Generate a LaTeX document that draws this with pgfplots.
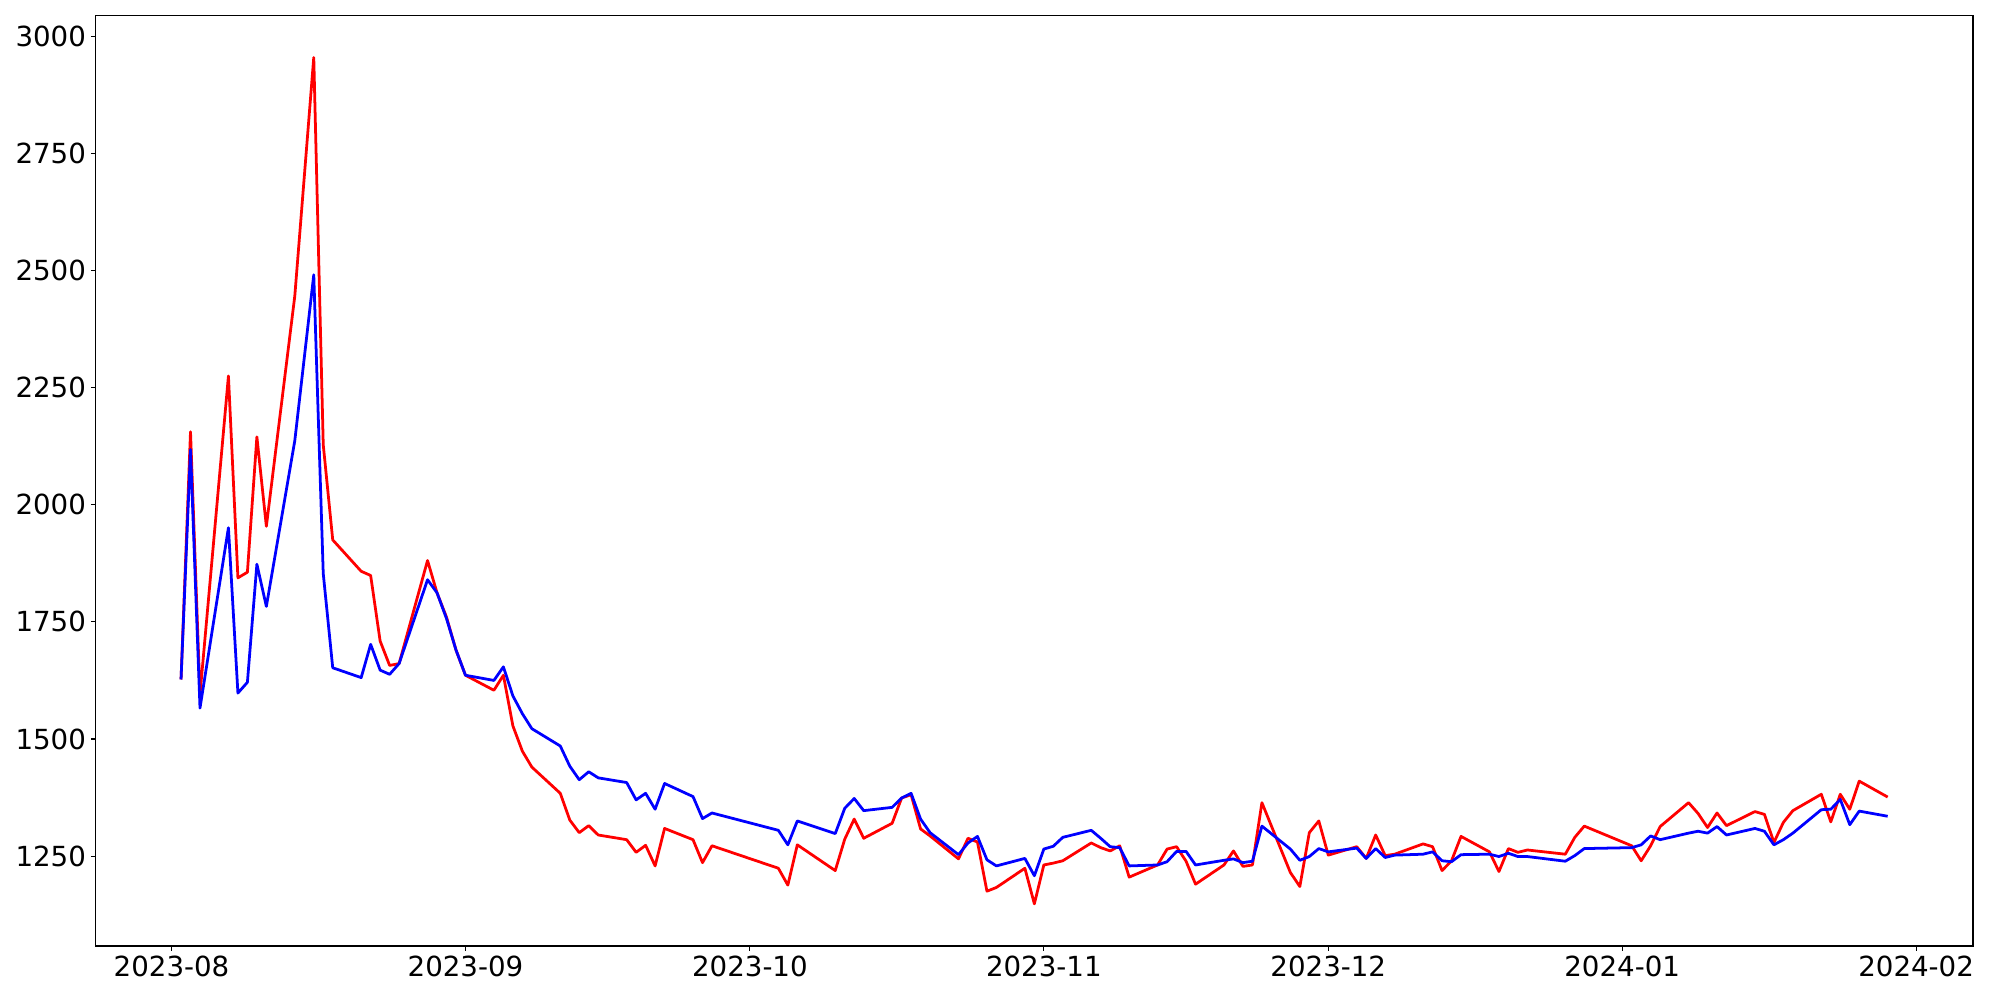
\documentclass[border=0pt]{standalone}
\usepackage{fontspec}
\setmainfont{DejaVu Sans}
\usepackage{pgfplots}
\pgfplotsset{compat=1.18}
\usepackage{pgfplotstable}
\usetikzlibrary{calc}

\pgfplotstableread{
day red blue
1 1627 1627
2 2156 2118
3 1595 1566
6 2275 1951
7 1844 1598
8 1856 1621
9 2145 1873
10 1954 1783
13 2446 2137
15 2955 2491
16 2128 1853
17 1925 1652
20 1858 1631
21 1849 1702
22 1709 1647
23 1657 1638
24 1661 1661
27 1881 1840
28 1812 1812
29 1760 1757
30 1690 1690
31 1636 1636
34 1604 1625
35 1636 1654
36 1528 1592
37 1474 1554
38 1440 1522
41 1384 1485
42 1327 1442
43 1300 1413
44 1315 1430
45 1295 1417
48 1285 1407
49 1258 1370
50 1273 1384
51 1229 1350
52 1309 1405
55 1285 1377
56 1236 1330
57 1272 1342
64 1224 1305
65 1188 1274
66 1274 1325
70 1219 1298
71 1286 1352
72 1329 1373
73 1288 1347
76 1320 1354
77 1374 1374
78 1381 1384
79 1308 1329
80 1293 1300
83 1244 1253
84 1288 1278
85 1280 1292
86 1175 1242
87 1183 1229
90 1224 1245
91 1148 1208
92 1231 1265
93 1235 1271
94 1240 1290
97 1278 1305
98 1268 1288
99 1261 1270
100 1272 1268
101 1205 1229
104 1231 1231
105 1265 1238
106 1270 1260
107 1239 1260
108 1190 1231
111 1231 1241
112 1261 1244
113 1228 1236
114 1231 1239
115 1364 1314
118 1215 1265
119 1185 1241
120 1300 1249
121 1325 1266
122 1252 1259
125 1270 1267
126 1245 1245
127 1295 1266
128 1251 1247
129 1254 1252
132 1276 1254
133 1270 1259
134 1219 1240
135 1240 1238
136 1292 1253
139 1259 1254
140 1217 1249
141 1266 1256
142 1258 1249
143 1263 1249
147 1254 1239
148 1290 1251
149 1314 1266
154 1272 1268
155 1240 1274
156 1272 1293
157 1313 1285
160 1364 1299
161 1341 1303
162 1311 1299
163 1342 1313
164 1315 1295
167 1345 1309
168 1339 1303
169 1279 1274
170 1322 1285
171 1347 1299
174 1382 1349
175 1323 1350
176 1382 1371
177 1350 1317
178 1410 1346
181 1376 1335
}\datatable

\begin{document}
\begin{tikzpicture}
\begin{axis}[
  name=ax,
  scale only axis,
  width=18.773in, height=9.307in,
  xmin=-8, xmax=190, ymin=1058, ymax=3045,
  xtick={0,31,61,92,122,153,184},
  xticklabels={2023-08,2023-09,2023-10,2023-11,2023-12,2024-01,2024-02},
  ytick={1250,1500,1750,2000,2250,2500,2750,3000},
  yticklabels={1250,1500,1750,2000,2250,2500,2750,3000},
  tick align=outside, tick pos=left,
  major tick length=3.5pt,
  every tick/.style={black, line width=0.8pt},
  axis line style={line width=0.8pt},
  tick label style={font=\fontsize{20}{24}\selectfont},
  /pgf/number format/assume math mode=true,
]
\addplot[red, line width=2pt, line join=round] table[x=day,y=red]{\datatable};
\addplot[blue, line width=2pt, line join=round] table[x=day,y=blue]{\datatable};
\end{axis}
\path ($(ax.south west)+(-0.957in,-0.54in)$) rectangle ($(ax.north east)+(0.27in,0.153in)$);
\end{tikzpicture}
\end{document}
